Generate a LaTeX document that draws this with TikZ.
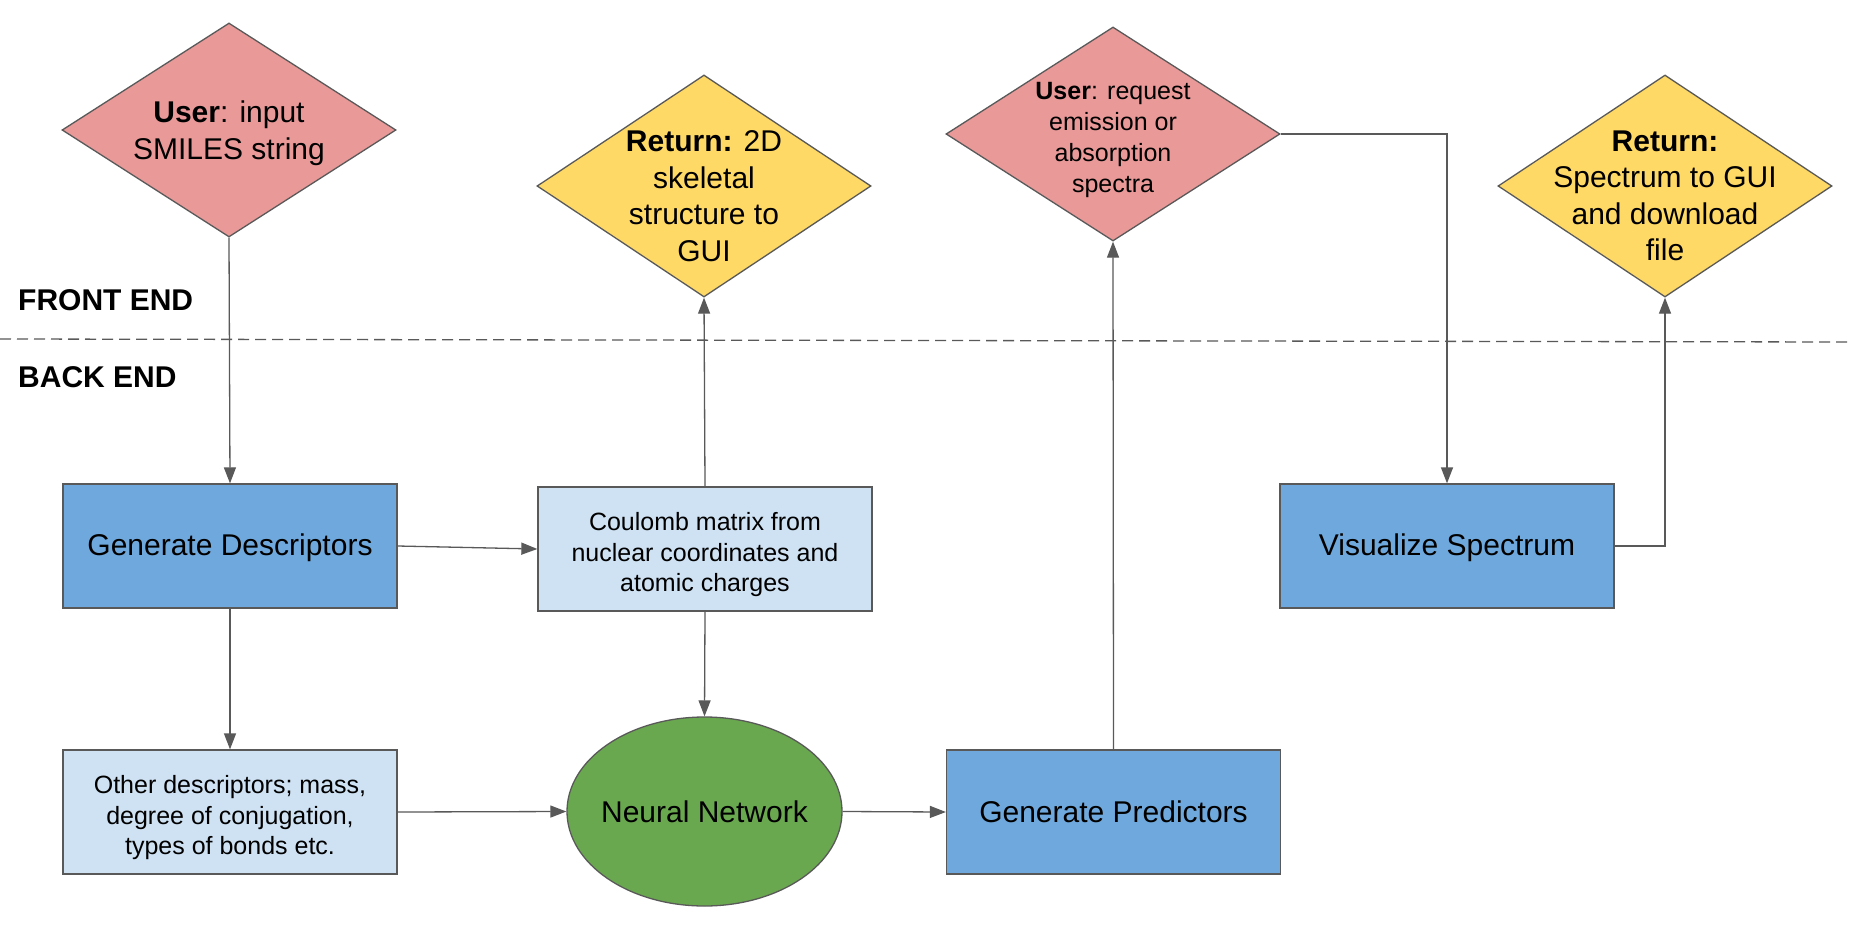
\documentclass[tikz,border=0pt]{standalone}
\usepackage{fontspec}
\setmainfont{Liberation Sans}
\usetikzlibrary{arrows.meta,shapes.geometric}
\definecolor{linec}{HTML}{595959}
\definecolor{pinkc}{HTML}{EA9999}
\definecolor{yellowc}{HTML}{FFD966}
\definecolor{bluec}{HTML}{6FA8DC}
\definecolor{lightbluec}{HTML}{CFE2F3}
\definecolor{greenc}{HTML}{6AA84F}
\begin{document}
\begin{tikzpicture}[x=1pt,y=-1pt,
  dia/.style={diamond, draw=linec, line width=1.3pt, minimum width=334pt, minimum height=214pt, inner sep=0pt},
  box/.style={rectangle, draw=linec, line width=1.3pt, minimum width=334pt, minimum height=124pt, inner sep=0pt, align=center},
  big/.style={font=\fontsize{30}{36.5}\selectfont},
  small/.style={font=\fontsize{25}{30.5}\selectfont},
  lbl/.style={align=center, inner sep=0pt},
  conn/.style={draw=linec, line width=1.3pt, -{Triangle[length=16pt,width=12pt]}},
  plain/.style={draw=linec, line width=1.3pt}
]
\useasboundingbox (0,0) rectangle (1850,926);
\fill[white] (0,0) rectangle (1850,926);

% separator
\coordinate (sepL) at (0,339);
\coordinate (sepR) at (1850,342);
\draw[linec, line width=1.3pt, dash pattern=on 11pt off 6pt] (sepL) -- (sepR);
\node[anchor=base west, inner sep=0pt, font=\fontsize{30}{36}\selectfont\bfseries] (fe) at (18,310) {FRONT END};
\node[anchor=base west, inner sep=0pt, font=\fontsize{30}{36}\selectfont\bfseries] (be) at (18,387) {BACK END};

% diamonds
\node[dia, fill=pinkc] (u1) at (229,130) {};
\node[lbl, big, yshift=-3pt] (u1t) at (u1) {\textbf{User}: input\\SMILES string};

\node[dia, fill=yellowc, minimum height=222pt] (r1) at (704,186) {};
\node[lbl, big, yshift=-10pt] (r1t) at (r1) {\textbf{Return:} 2D\\skeletal\\structure to\\GUI};

\node[dia, fill=pinkc] (u2) at (1113,134) {};
\node[lbl, font=\fontsize{25}{31}\selectfont, yshift=-5.5pt] (u2t) at (u2) {\textbf{User}: request\\emission or\\absorption\\spectra};

\node[dia, fill=yellowc, minimum height=222pt] (r2) at (1665,186) {};
\node[lbl, big, yshift=-10pt] (r2t) at (r2) {\textbf{Return:}\\Spectrum to GUI\\and download\\file};

% boxes
\node[box, fill=bluec] (gd) at (230,546) {};
\node[lbl, big, yshift=-2pt] (gdt) at (gd) {Generate Descriptors};
\node[box, fill=lightbluec] (cm) at (705,549) {};
\node[lbl, small, yshift=-6pt] (cmt) at (cm) {Coulomb matrix from\\nuclear coordinates and\\atomic charges};
\node[box, fill=lightbluec] (od) at (230,812) {};
\node[lbl, small, yshift=-6pt] (odt) at (od) {Other descriptors; mass,\\degree of conjugation,\\types of bonds etc.};
\node[ellipse, draw=linec, line width=1.3pt, fill=greenc, minimum width=275pt, minimum height=189pt, inner sep=0pt] (nn) at (704.5,811.5) {};
\node[lbl, big] (nnt) at (nn) {Neural Network};
\node[box, fill=bluec] (gp) at (1113.5,812) {};
\node[lbl, big] (gpt) at (gp) {Generate Predictors};
\node[box, fill=bluec] (vs) at (1447,546) {};
\node[lbl, big, yshift=-2pt] (vst) at (vs) {Visualize Spectrum};

% connectors
\draw[conn] (u1.south) -- (gd.north);
\draw[conn] (gd.east) -- (cm.west);
\draw[conn] (cm.north) -- (r1.south);
\draw[conn] (gd.south) -- (od.north);
\draw[conn] (cm.south) -- (nn.north);
\draw[conn] (od.east) -- (nn.west);
\draw[conn] (nn.east) -- (gp.west);
\draw[conn] (gp.north) -- (u2.south);
\draw[conn] (u2.east) -| (vs.north);
\draw[conn] (vs.east) -| (r2.south);
\end{tikzpicture}
\end{document}
